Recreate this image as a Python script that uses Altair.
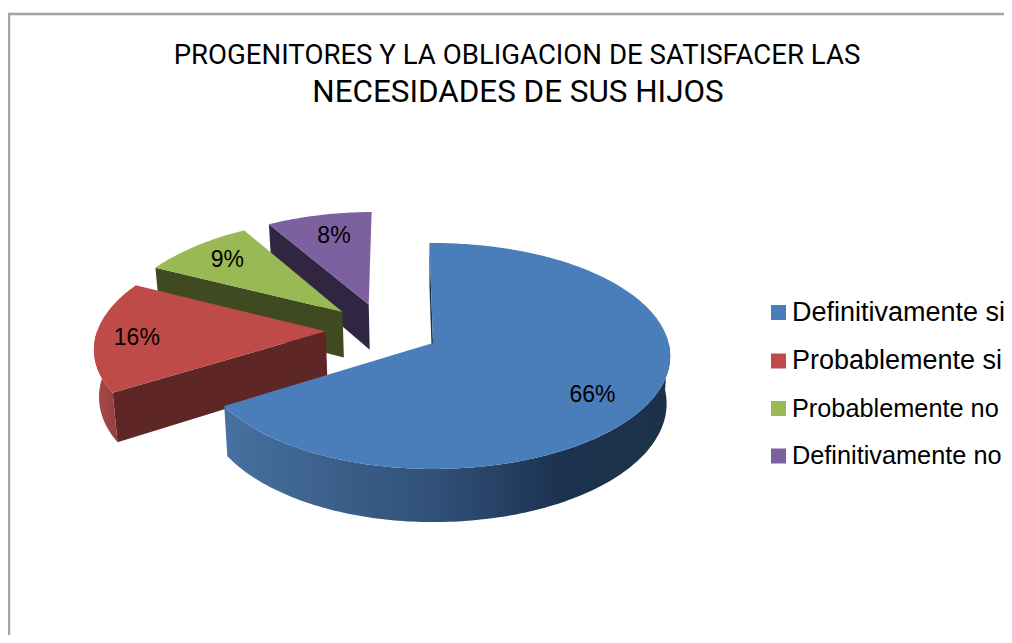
import math
import altair as alt

# ---- chart values ----
categories = ["Definitivamente si", "Probablemente si", "Probablemente no", "Definitivamente no"]
shares = [66.3, 16.2, 9.0, 8.4]
labels = ["66%", "16%", "9%", "8%"]
top_colors = ["#4a7ebb", "#be4b48", "#98b954", "#7d60a0"]
wall_colors = ["#1c3248", "#5e2625", "#3f4a20", "#312642"]
title_lines = ["PROGENITORES Y LA OBLIGACION DE SATISFACER LAS", "NECESIDADES DE SUS HIJOS"]

# ---- 3-D pie view (perspective tilt) ----
X0, Y0, RX, RY, K = 433.0, 343.0, 235.6, 111.5, 0.115
LEFT_SQUEEZE = 0.982
DEPTH, WALL_SCALE, EXPLODE, START = 47.0, 0.985, 0.25, -91.0
LABEL_POLAR = [(34.5, 0.78), (176.0, 0.82), (222.9, 0.775), (255.0, 0.74)]
FONT = "Liberation Sans"
TITLE_FONT = "Roboto"


def top(u, v):
    d = 1 - K * v
    return [X0 + RX * u / d * (LEFT_SQUEEZE if u < 0 else 1.0), Y0 + RY * v / d]


def bottom(u, v):
    x, y = top(u, v)
    return [X0 + WALL_SCALE * (x - X0), y + DEPTH / (1 - K * v)]


total = sum(shares)
spans, a = [], START
for s in shares:
    spans.append((a, a + 360 * s / total))
    a = spans[-1][1]
mids = [(p + q) / 2 for p, q in spans]
blue_off = (math.cos(math.radians(mids[0])), math.sin(math.radians(mids[0])))
apexes = [(EXPLODE * (math.cos(math.radians(m)) - blue_off[0]),
           EXPLODE * (math.sin(math.radians(m)) - blue_off[1])) for m in mids]


def rim(i, p, q):
    n = max(2, int(abs(q - p)) + 1)
    cu, cv = apexes[i]
    return [(cu + math.cos(math.radians(p + (q - p) * j / (n - 1))),
             cv + math.sin(math.radians(p + (q - p) * j / (n - 1)))) for j in range(n)]


def feature(ring, **props):
    ring = ring + [ring[0]]
    return {"type": "Feature", "properties": props,
            "geometry": {"type": "Polygon", "coordinates": [ring]}}


proj = dict(type="identity", scale=1, translate=[-8, -8])
fill_scale = alt.Scale(domain=categories, range=top_colors)
legend = alt.Legend(orient="none", legendX=757, legendY=291, title=None, symbolType="square",
                    symbolSize=225, symbolStrokeWidth=0, labelFont=FONT,
                    labelFontSize=alt.ExprRef("test(/no$/, datum.label) ? 25.3 : 27"),
                    labelColor="#000000", labelOffset=0, rowPadding=20.5, padding=0, labelLimit=300,
                    symbolOffset=0)

layers = []
# frame of the chart
layers.append(alt.Chart(alt.Data(values=[{"a": 0}])).mark_rule(color="#a3a3a3", strokeWidth=2.4).encode(
    x=alt.value(1), y=alt.value(5), y2=alt.value(627)))
layers.append(alt.Chart(alt.Data(values=[{"a": 0}])).mark_rule(color="#a3a3a3", strokeWidth=2.4).encode(
    x=alt.value(0), x2=alt.value(996), y=alt.value(6)))

wall_gradients = {
    0: alt.Gradient(gradient="linear", x1=0, x2=1, y1=0, y2=0,
                    stops=[alt.GradientStop(color="#47719f", offset=0),
                           alt.GradientStop(color="#2f4e75", offset=0.5),
                           alt.GradientStop(color="#1c3350", offset=0.75),
                           alt.GradientStop(color="#1c3248", offset=1)]),
    1: alt.Gradient(gradient="linear", x1=0, x2=1, y1=0, y2=0,
                    stops=[alt.GradientStop(color="#a84a48", offset=0),
                           alt.GradientStop(color="#973f3d", offset=1)]),
}

for i in reversed(range(4)):
    p, q = spans[i]
    cu, cv = apexes[i]
    # radial wall of the slice's first edge
    su, sv = cu + math.cos(math.radians(p)), cv + math.sin(math.radians(p))
    wall = feature([top(cu, cv), top(su, sv), bottom(su, sv), bottom(cu, cv)])
    layers.append(alt.Chart(alt.Data(values=[wall])).mark_geoshape(
        fill=wall_colors[i], strokeWidth=0).project(**proj))
    # outer, front-facing wall
    lo, hi = max(p, 0.0), min(q, 180.0)
    if hi > lo:
        arc = rim(i, lo, hi)
        ring = [top(*t) for t in arc] + [bottom(*t) for t in reversed(arc)]
        layers.append(alt.Chart(alt.Data(values=[feature(ring)])).mark_geoshape(
            fill=wall_gradients[i], strokeWidth=0).project(**proj))
    # top surface
    ring = [top(cu, cv)] + [top(*t) for t in rim(i, p, q)]
    surf = feature(ring, category=categories[i])
    layers.append(alt.Chart(alt.Data(values=[surf])).mark_geoshape(strokeWidth=0).encode(
        fill=alt.Fill("properties.category:N", scale=fill_scale, sort=categories, legend=legend)).project(**proj))

# percentage labels
rows = []
for i in range(4):
    ang, rho = LABEL_POLAR[i]
    lon, lat = top(apexes[i][0] + rho * math.cos(math.radians(ang)),
                   apexes[i][1] + rho * math.sin(math.radians(ang)))
    rows.append({"lon": lon, "lat": lat, "text": labels[i]})
layers.append(alt.Chart(alt.Data(values=rows)).mark_text(
    font=FONT, fontSize=23, color="#000000", align="center", baseline="middle").encode(
    longitude="lon:Q", latitude="lat:Q", text="text:N").project(**proj))

# title: first line is compressed in the reference, so each line has its own size
for line, lon, lat, size in [(title_lines[0], 517, 55.5, 27.6), (title_lines[1], 518, 93, 31.4)]:
    layers.append(alt.Chart(alt.Data(values=[{"lon": lon, "lat": lat, "text": line}])).mark_text(
        font=TITLE_FONT, fontSize=size, color="#000000", align="center", baseline="middle").encode(
        longitude="lon:Q", latitude="lat:Q", text="text:N").project(**proj))

chart = alt.layer(*layers).properties(
    width=996, height=627, padding=0, autosize=alt.AutoSizeParams(type="none"), background="#ffffff"
).configure_view(stroke=None)

chart.save("out.html", embed_options={"renderer": "svg", "actions": False})
